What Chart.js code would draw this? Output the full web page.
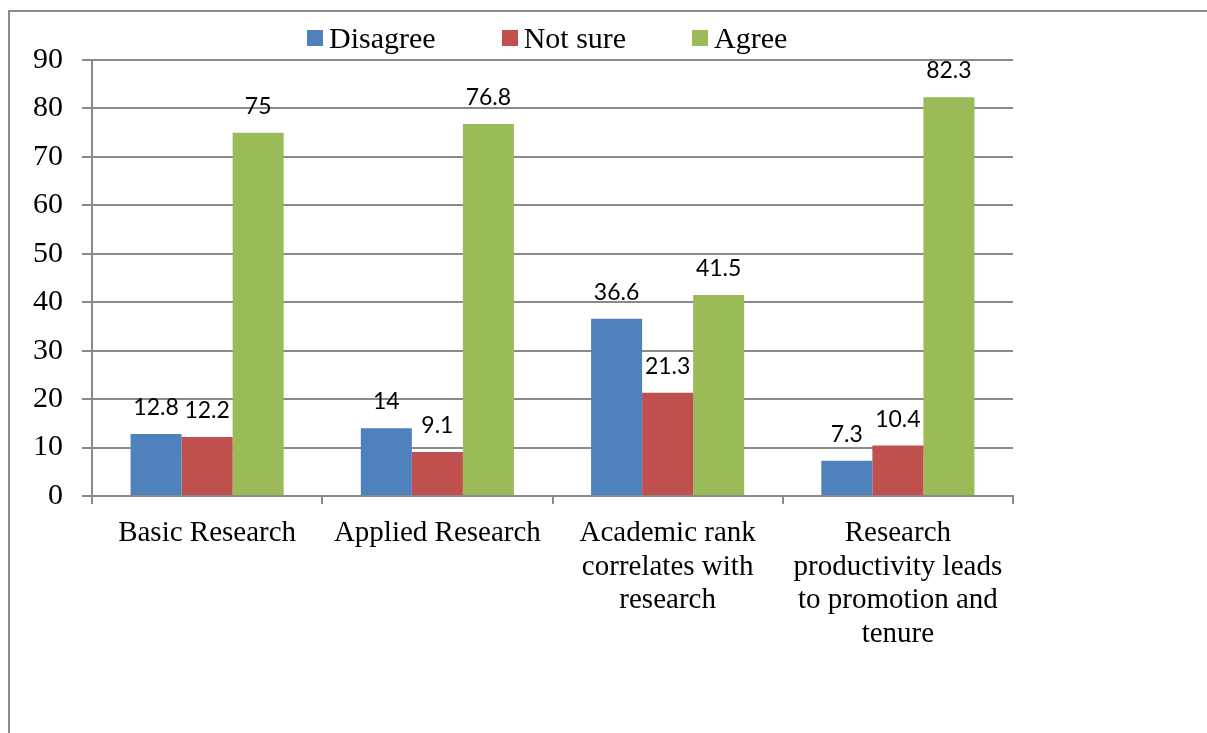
<!DOCTYPE html>
<html>
<head>
<meta charset="utf-8">
<script src="https://cdn.jsdelivr.net/npm/chart.js@4.4.1/dist/chart.umd.min.js"></script>
<style>
  html, body { margin: 0; padding: 0; background: #fff; overflow: hidden; }
  #wrap { position: relative; width: 1207px; height: 733px; }
  #frame {
    position: absolute; left: 8px; top: 10px; width: 1400px; height: 900px;
    border-left: 2px solid #8a8a8a; border-top: 2px solid #8a8a8a;
  }
  #chart { position: absolute; left: 0; top: 0; }
  #legend {
    position: absolute; left: 307px; top: 23px; display: flex; align-items: center;
    font-family: "Liberation Serif", "Times New Roman", serif; font-size: 30px; line-height: 30px;
    color: #000;
  }
  #legend .item { display: flex; align-items: center; margin-right: 66px; }
  #legend .item:last-child { margin-right: 0; }
  #legend .box { width: 16px; height: 16px; margin-right: 6px; }
</style>
</head>
<body>
<div id="wrap">
  <div id="frame"></div>
  <canvas id="chart" width="1207" height="733"></canvas>
  <div id="legend"></div>
</div>
<script>
// categories (multi-line labels) and survey percentages
const categories = [
  "Basic Research",
  "Applied Research",
  ["Academic rank", "correlates with", "research"],
  ["Research", "productivity leads", "to promotion and", "tenure"],
];
const disagree = [12.8, 14, 36.6, 7.3];
const notSure = [12.2, 9.1, 21.3, 10.4];
const agree = [75, 76.8, 41.5, 82.3];
const yTicks = { min: 0, max: 90, step: 10 };

const seriesNames = ["Disagree", "Not sure", "Agree"];
const seriesColors = ["#4F81BD", "#C0504D", "#9BBB59"];
const seriesValues = [disagree, notSure, agree];

const axisColor = "#8a8a8a";
const serif = '"Liberation Serif", "Times New Roman", serif';

// value labels above each bar
const barValueLabels = {
  id: "barValueLabels",
  afterDatasetsDraw(chart) {
    const ctx = chart.ctx;
    ctx.save();
    ctx.font = '23px Lato, "Open Sans", sans-serif';
    ctx.fillStyle = "#000";
    ctx.textAlign = "center";
    ctx.textBaseline = "alphabetic";
    chart.data.datasets.forEach((ds, i) => {
      const meta = chart.getDatasetMeta(i);
      meta.data.forEach((bar, j) => {
        ctx.fillText(String(ds.data[j]), bar.x, bar.y - 19);
      });
    });
    ctx.restore();
  },
};

const chart = new Chart(document.getElementById("chart"), {
  type: "bar",
  data: {
    labels: categories,
    datasets: seriesNames.map((name, i) => ({
      label: name,
      data: seriesValues[i],
      backgroundColor: seriesColors[i],
      borderWidth: 0,
      categoryPercentage: 0.665,
      barPercentage: 1.0,
    })),
  },
  options: {
    responsive: false,
    animation: false,
    layout: { padding: { top: 60, right: 194, bottom: 0, left: 0 } },
    plugins: {
      legend: { display: false },
      tooltip: { enabled: false },
    },
    scales: {
      x: {
        grid: {
          display: true,
          drawOnChartArea: false,
          drawTicks: true,
          tickLength: 8,
          color: axisColor,
          lineWidth: 2,
        },
        border: { color: axisColor, width: 2 },
        ticks: {
          color: "#000",
          font: { family: serif, size: 29, lineHeight: 1.17 },
          padding: 12,
          maxRotation: 0,
          autoSkip: false,
        },
        afterFit(scale) { scale.height = 733 - 496; },
      },
      y: {
        min: yTicks.min,
        max: yTicks.max,
        ticks: {
          stepSize: yTicks.step,
          color: "#000",
          font: { family: serif, size: 30 },
          padding: 19,
        },
        grid: { color: axisColor, lineWidth: 2, tickLength: 10 },
        border: { color: axisColor, width: 2 },
        afterFit(scale) { scale.width = 92; },
      },
    },
  },
  plugins: [barValueLabels],
});

// legend built from the chart's datasets
const legendEl = document.getElementById("legend");
chart.data.datasets.forEach((ds) => {
  const item = document.createElement("span");
  item.className = "item";
  const box = document.createElement("span");
  box.className = "box";
  box.style.background = ds.backgroundColor;
  const text = document.createElement("span");
  text.textContent = ds.label;
  item.appendChild(box);
  item.appendChild(text);
  legendEl.appendChild(item);
});
</script>
</body>
</html>
